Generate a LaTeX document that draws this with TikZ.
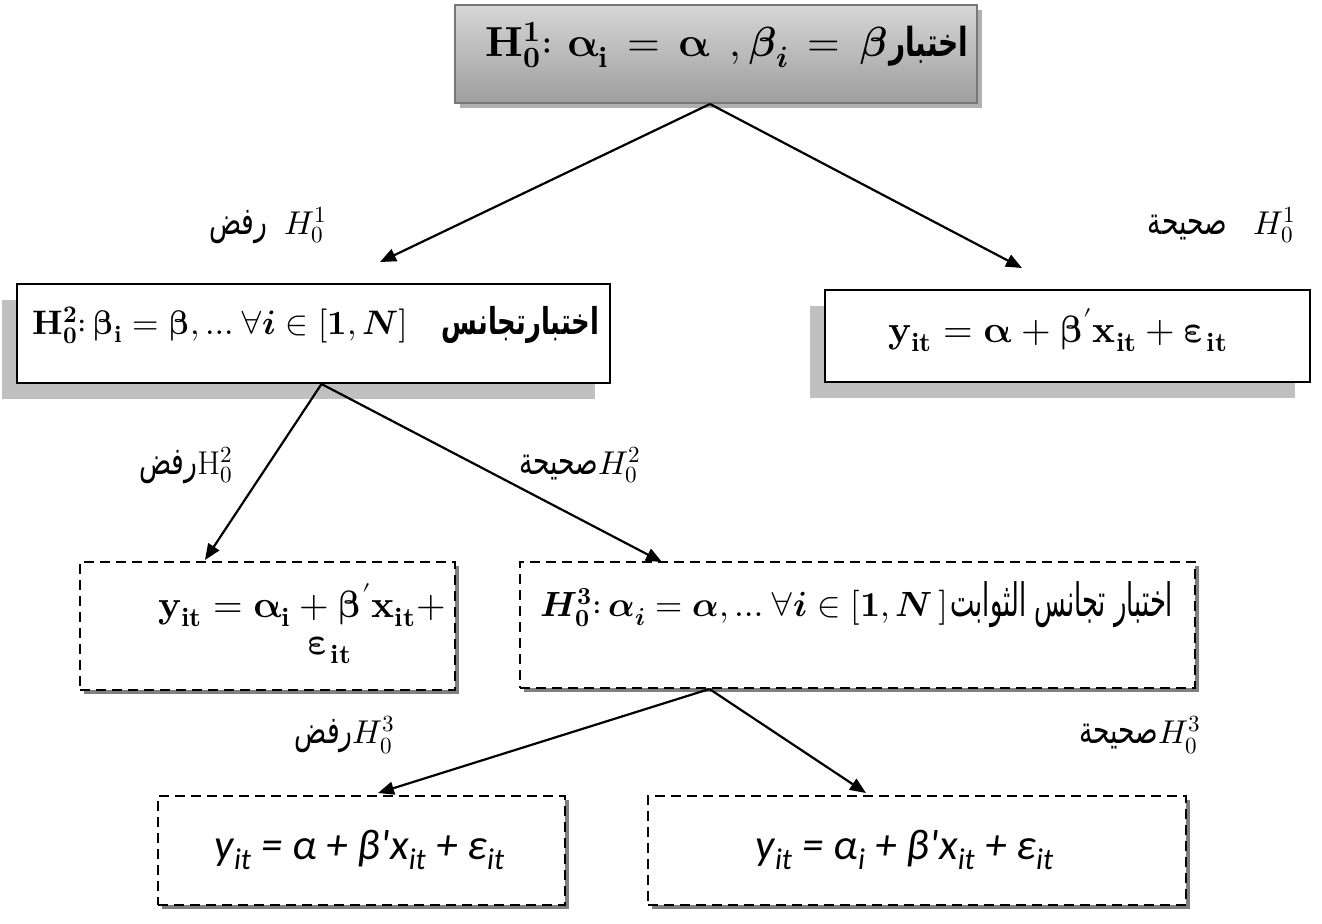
\documentclass[tikz,border=0pt]{standalone}
\usepackage{amsmath}
\usepackage{unicode-math}
\TeXXeTstate=1
\newfontfamily\arabicfont[Script=Arabic,FakeStretch=0.7]{DejaVu Sans}
\newfontfamily\arabicnarrow[Script=Arabic,FakeStretch=0.56]{DejaVu Sans}
\newfontfamily\carl{Carlito}
\usetikzlibrary{arrows.meta,shadows}
\definecolor{topc}{HTML}{D6D6D6}
\definecolor{midc}{HTML}{ECECEC}
\definecolor{botc}{HTML}{9E9E9E}
\definecolor{bordc}{HTML}{777777}
\definecolor{shA}{HTML}{B0B0B0}
\definecolor{shB}{HTML}{C0C0C0}
\definecolor{shC}{HTML}{7F7F7F}
\newcommand{\cl}{\mathpunct{:}}
\newcommand{\az}[1]{\fontsize{#1}{#1}\arabicfont}
\tikzset{
  topbox/.style={draw=bordc, line width=1pt, inner sep=0pt,
    top color=topc, middle color=midc, bottom color=botc,
    drop shadow={shadow xshift=2.5pt, shadow yshift=-2.5pt, fill=shA, opacity=1}},
  solidbox/.style={draw=black, line width=1pt, fill=white, inner sep=0pt,
    drop shadow={shadow xshift=-7.5pt, shadow yshift=-8pt, fill=shB, opacity=1}},
  dashbox/.style={draw=black, line width=1pt, fill=white, inner sep=0pt,
    dash pattern=on 5pt off 3pt,
    drop shadow={shadow xshift=2pt, shadow yshift=-2pt, fill=shC, opacity=1}},
  arr/.style={draw=black, line width=1.1pt, -{Triangle[length=8pt,width=6.5pt]}},
  boxtext/.style={inner sep=0pt, font=\fontsize{19}{22}\selectfont},
  lbl/.style={inner sep=0pt, font=\fontsize{16.5}{19}\selectfont},
  eqtext/.style={inner sep=0pt, font=\carl\itshape\fontsize{21.5}{24}\selectfont}
}
\begin{document}
\begin{tikzpicture}[x=0.5pt,y=-0.5pt]
\useasboundingbox (0,0) rectangle (1322,923);
% boxes
\node[topbox, minimum width=261pt, minimum height=49pt] (b1) at (716,54) {};
\node[solidbox, minimum width=296.5pt, minimum height=49.5pt] (b2) at (313.5,333.5) {};
\node[solidbox, minimum width=242.5pt, minimum height=46pt] (b3) at (1067.5,336) {};
\node[dashbox, minimum width=187.5pt, minimum height=64pt] (b4) at (267.5,626) {};
\node[dashbox, minimum width=337.5pt, minimum height=63pt] (b5) at (857.5,625) {};
\node[dashbox, minimum width=203.5pt, minimum height=54.5pt] (b6) at (361.5,850.5) {};
\node[dashbox, minimum width=269pt, minimum height=54.5pt] (b7) at (917,850.5) {};
% texts
\node[boxtext, font=\fontsize{21}{24}\selectfont] (t1) at (727,45) {\thickmuskip=8mu$\symbfup{H}_{\symbf{0}}^{\symbf{1}}\cl\,\symbfup{\alpha}_{\symbfup{i}} = \symbfup{\alpha}\;, \symbfit{\beta}_{\symbfit{i}} = \symbfit{\beta}$\hspace{1pt}{\az{20}\bfseries\beginR اختبار\endR}};
\node[boxtext, font=\fontsize{17}{20}\selectfont] (t2) at (316,325) {$\symbfup{H}_{\symbf{0}}^{\symbf{2}}\cl\symbfup{\beta}_{\symbfup{i}} = \symbfup{\beta}, \ldots\forall\symbfit{i} \in [\symbf{1}, \symbfit{N}]$\quad{\az{18.5}\bfseries\beginR اختبارتجانس\endR}};
\node[boxtext] (t3) at (1058,330) {$\symbfup{y}_{\symbfup{it}} = \symbfup{\alpha} + \symbfup{\beta}'\symbfup{x}_{\symbfup{it}} + \symbfup{\varepsilon}_{\symbfup{it}}$};
\node[boxtext] (t4a) at (302,605) {$\symbfup{y}_{\symbfup{it}} = \symbfup{\alpha}_{\symbfup{i}} + \symbfup{\beta}'\symbfup{x}_{\symbfup{it}} +$};
\node[boxtext] (t4b) at (330,650) {$\symbfup{\varepsilon}_{\symbfup{it}}$};
\node[boxtext, font=\fontsize{17.5}{21}\selectfont] (t5) at (857,605) {$\symbfit{H}_{\symbf{0}}^{\symbf{3}}\cl\symbfit{\alpha}_{\symbfit{i}} = \symbfit{\alpha}, \ldots\forall\symbfit{i} \in [\symbf{1}, \symbfit{N}\,]$\hspace{1pt}{\fontsize{23}{23}\arabicnarrow\beginR اختبار تجانس الثوابت\endR}};
\node[eqtext] (t6) at (360,850) {y\textsubscript{it} = α + β\textquotesingle x\textsubscript{it} + ε\textsubscript{it}};
\node[eqtext] (t7) at (905,850) {y\textsubscript{it} = α\textsubscript{i} + β\textquotesingle x\textsubscript{it} + ε\textsubscript{it}};
% labels
\node[lbl] (l1) at (268,225) {{\az{19}\beginR رفض\endR}\enspace$H_0^1$};
\node[lbl] (l2) at (1222,225) {{\az{19}\beginR صحيحة\endR}\enspace\ $H_0^1$};
\node[lbl] (l3) at (186,465) {{\az{19}\beginR رفض\endR}$\mathrm{H}_0^2$};
\node[lbl] (l4) at (580,465) {{\az{19}\beginR صحيحة\endR}$H_0^2$};
\node[lbl] (l5) at (345,735) {{\az{19}\beginR رفض\endR}$H_0^3$};
\node[lbl] (l6) at (1140,735) {{\az{19}\beginR صحيحة\endR}$H_0^3$};
% arrow tips
\coordinate (e1a) at (380,262);
\coordinate (e1b) at (1022,268);
\coordinate (e2a) at (205,560);
\coordinate (e2b) at (662,562);
\coordinate (e5a) at (378,793);
\coordinate (e5b) at (866,793);
% connectors
\draw[arr] ([xshift=-3pt]b1.south) -- (e1a);
\draw[arr] ([xshift=-3pt]b1.south) -- (e1b);
\draw[arr] ([xshift=4pt]b2.south) -- (e2a);
\draw[arr] ([xshift=4pt]b2.south) -- (e2b);
\draw[arr] ([xshift=-74pt]b5.south) -- (e5a);
\draw[arr] ([xshift=-74pt]b5.south) -- (e5b);
\end{tikzpicture}
\end{document}
